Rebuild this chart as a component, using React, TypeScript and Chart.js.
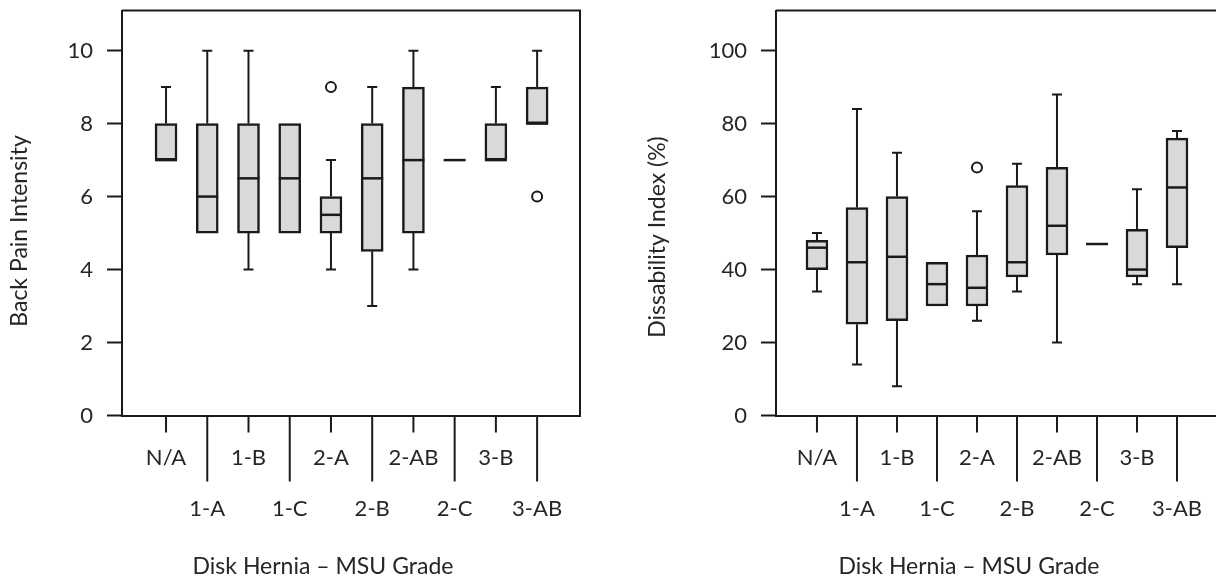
import { useEffect, useRef } from 'react';
import { Chart, registerables } from 'chart.js';

Chart.register(...registerables);

// ---------- data ----------
const categories = ['N/A', '1-A', '1-B', '1-C', '2-A', '2-B', '2-AB', '2-C', '3-B', '3-AB'];

// Back Pain Intensity
const painMin = [7, 5, 4, 5, 4, 3, 4, 7, 7, 8];
const painQ1 = [7, 5, 5, 5, 5, 4.5, 5, 7, 7, 8];
const painMedian = [7, 6, 6.5, 6.5, 5.5, 6.5, 7, 7, 7, 8];
const painQ3 = [8, 8, 8, 8, 6, 8, 9, 7, 8, 9];
const painMax = [9, 10, 10, 8, 7, 9, 10, 7, 9, 10];
const painOutlierCat = [4, 9];
const painOutlierVal = [9, 6];
const painTicks = [0, 2, 4, 6, 8, 10];

// Dissability Index (%)
const disMin = [34, 14, 8, 30, 26, 34, 20, 47, 36, 36];
const disQ1 = [40, 25, 26, 30, 30, 38, 44, 47, 38, 46];
const disMedian = [46, 42, 43.5, 36, 35, 42, 52, 47, 40, 62.5];
const disQ3 = [48, 57, 60, 42, 44, 63, 68, 47, 51, 76];
const disMax = [50, 84, 72, 42, 56, 69, 88, 47, 62, 78];
const disOutlierCat = [4];
const disOutlierVal = [68];
const disTicks = [0, 20, 40, 60, 80, 100];

const xTitle = 'Disk Hernia \u2013 MSU Grade';

// ---------- style ----------
const FONT = 'Lato';
const INK = '#1a1a1a';
const TEXT = '#262626';
const BOX_FILL = '#d9d9d9';
const BOX_W = 22;
const CAP_W = 10;

type Panel = {
  min: number[];
  q1: number[];
  med: number[];
  q3: number[];
  max: number[];
  outCat: number[];
  outVal: number[];
  yTicks: number[];
  yMax: number;
  xMin: number;
  xMax: number;
  yTitle: string;
  yTitleX: number;
  yTitleY: number;
  xTitleX: number;
  axisLeft: number;
  padRight: number;
  left: number;
  width: number;
};

const panels: Panel[] = [
  {
    min: painMin, q1: painQ1, med: painMedian, q3: painQ3, max: painMax,
    outCat: painOutlierCat, outVal: painOutlierVal, yTicks: painTicks,
    yMax: 11.1, xMin: -1.068, xMax: 10.04,
    yTitle: 'Back Pain Intensity', yTitleX: 20, yTitleY: 231, xTitleX: 323,
    axisLeft: 122, padRight: 20, left: 0, width: 600,
  },
  {
    min: disMin, q1: disQ1, med: disMedian, q3: disQ3, max: disMax,
    outCat: disOutlierCat, outVal: disOutlierVal, yTicks: disTicks,
    yMax: 111, xMin: -1.024, xMax: 10.05,
    yTitle: 'Dissability Index (%)', yTitleX: 58, yTitleY: 237, xTitleX: 369,
    axisLeft: 176, padRight: 21, left: 600, width: 640,
  },
];

function makePlugin(p: Panel) {
  return {
    id: 'boxExtras',
    beforeDatasetsDraw(chart: any) {
      const ctx = chart.ctx;
      const xs = chart.scales.x;
      const ys = chart.scales.y;
      ctx.save();
      ctx.strokeStyle = INK;
      ctx.lineWidth = 2;
      categories.forEach((_, i) => {
        const px = xs.getPixelForValue(i);
        if (p.max[i] > p.q3[i]) {
          const a = ys.getPixelForValue(p.q3[i]);
          const b = ys.getPixelForValue(p.max[i]);
          ctx.beginPath();
          ctx.moveTo(px, a);
          ctx.lineTo(px, b);
          ctx.moveTo(px - CAP_W / 2, b);
          ctx.lineTo(px + CAP_W / 2, b);
          ctx.stroke();
        }
        if (p.min[i] < p.q1[i]) {
          const a = ys.getPixelForValue(p.q1[i]);
          const b = ys.getPixelForValue(p.min[i]);
          ctx.beginPath();
          ctx.moveTo(px, a);
          ctx.lineTo(px, b);
          ctx.moveTo(px - CAP_W / 2, b);
          ctx.lineTo(px + CAP_W / 2, b);
          ctx.stroke();
        }
      });
      ctx.restore();
    },
    afterDatasetsDraw(chart: any) {
      const ctx = chart.ctx;
      const xs = chart.scales.x;
      const ys = chart.scales.y;
      ctx.save();
      ctx.strokeStyle = INK;
      ctx.lineWidth = 2.5;
      categories.forEach((_, i) => {
        const px = xs.getPixelForValue(i);
        const py = ys.getPixelForValue(p.med[i]);
        ctx.beginPath();
        ctx.moveTo(px - BOX_W / 2, py);
        ctx.lineTo(px + BOX_W / 2, py);
        ctx.stroke();
      });
      ctx.restore();
    },
    afterDraw(chart: any) {
      const ctx = chart.ctx;
      const xs = chart.scales.x;
      const { top, right, bottom, left } = chart.chartArea;
      ctx.save();
      // frame top and right
      ctx.strokeStyle = INK;
      ctx.lineWidth = 2;
      ctx.beginPath();
      ctx.moveTo(left, top);
      ctx.lineTo(right, top);
      ctx.lineTo(right, bottom);
      ctx.stroke();
      // category ticks and labels
      ctx.fillStyle = TEXT;
      ctx.font = `22px ${FONT}`;
      ctx.textAlign = 'center';
      ctx.textBaseline = 'middle';
      categories.forEach((c, i) => {
        const px = xs.getPixelForValue(i);
        const long = i % 2 === 1;
        ctx.beginPath();
        ctx.moveTo(px, bottom);
        ctx.lineTo(px, bottom + (long ? 66 : 17));
        ctx.stroke();
        ctx.fillText(c, px, bottom + (long ? 93.5 : 42.5));
      });
      // x title
      ctx.font = `23px ${FONT}`;
      ctx.fillText(xTitle, p.xTitleX, bottom + 151.5);
      // y title
      ctx.translate(p.yTitleX, p.yTitleY);
      ctx.rotate(-Math.PI / 2);
      ctx.fillText(p.yTitle, 0, 0);
      ctx.restore();
    },
  };
}

function buildConfig(p: Panel): any {
  const boxData = categories
    .map((_, i) => ({ x: i, y: [p.q1[i], p.q3[i]] }))
    .filter((d) => d.y[1] > d.y[0]);
  const outData = p.outCat.map((c, k) => ({ x: c, y: p.outVal[k] }));
  return {
    type: 'bar',
    data: {
      datasets: [
        {
          type: 'bar',
          data: boxData,
          backgroundColor: BOX_FILL,
          borderColor: INK,
          borderWidth: 2.5,
          borderSkipped: false,
          barThickness: BOX_W,
        },
        {
          type: 'scatter',
          data: outData,
          pointRadius: 5,
          pointBorderWidth: 2,
          pointBackgroundColor: '#ffffff',
          pointBorderColor: INK,
        },
      ],
    },
    options: {
      animation: false,
      responsive: false,
      maintainAspectRatio: false,
      layout: { autoPadding: false, padding: { top: 10.5, right: p.padRight, bottom: 0, left: 0 } },
      plugins: { legend: { display: false }, tooltip: { enabled: false } },
      scales: {
        x: {
          type: 'linear',
          offset: false,
          min: p.xMin,
          max: p.xMax,
          ticks: { display: false },
          grid: { display: true, offset: false, drawOnChartArea: false, drawTicks: false },
          border: { display: true, color: INK, width: 2 },
          afterFit: (s: any) => {
            s.height = 166.5;
            s.paddingLeft = 0;
            s.paddingRight = 0;
          },
        },
        y: {
          type: 'linear',
          min: 0,
          max: p.yMax,
          afterBuildTicks: (s: any) => { s.ticks = p.yTicks.map((v) => ({ value: v })); },
          ticks: {
            font: { family: FONT, size: 22 },
            color: TEXT,
            padding: 14,
            callback: (v: any) => String(v),
          },
          grid: { drawOnChartArea: false, drawTicks: true, tickLength: 15, tickWidth: 2, tickColor: INK },
          border: { display: true, color: INK, width: 2 },
          afterFit: (s: any) => {
            s.width = p.axisLeft;
            s.paddingTop = 0;
            s.paddingBottom = 0;
          },
        },
      },
    },
    plugins: [makePlugin(p)],
  };
}

function BoxPanel({ p }: { p: Panel }) {
  const ref = useRef<HTMLCanvasElement>(null);
  useEffect(() => {
    const chart = new Chart(ref.current as HTMLCanvasElement, buildConfig(p));
    return () => chart.destroy();
  }, [p]);
  return (
    <canvas
      ref={ref}
      width={p.width}
      height={582}
      style={{ position: 'absolute', left: p.left, top: 0, width: p.width, height: 582, display: 'block' }}
    />
  );
}

export default function App() {
  return (
    <div style={{ position: 'fixed', left: 0, top: 0, width: 1216, height: 582, overflow: 'hidden', background: '#ffffff' }}>
      {panels.map((p, i) => (
        <BoxPanel key={i} p={p} />
      ))}
    </div>
  );
}
